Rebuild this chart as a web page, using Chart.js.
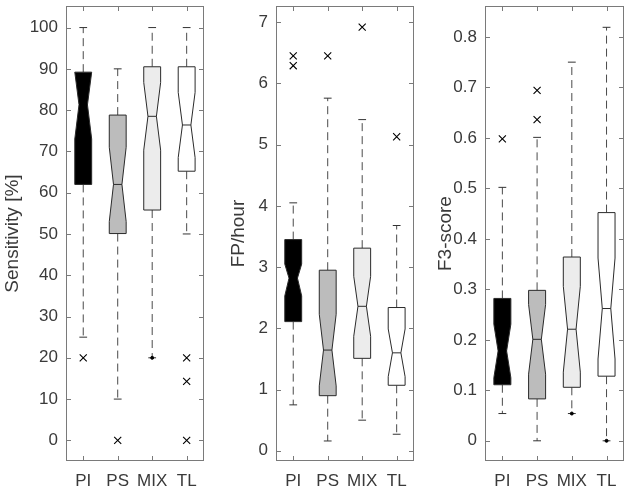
<!DOCTYPE html>
<html><head><meta charset="utf-8">
<script src="https://cdn.jsdelivr.net/npm/chart.js@4/dist/chart.umd.min.js"></script>
<style>
html,body{margin:0;padding:0;background:#fff;}
#wrap{position:relative;width:630px;height:492px;}
.p{position:absolute;top:0;width:210px;height:492px;}
</style></head><body>
<div id="wrap">
<div class="p" style="left:0"><canvas id="c1" width="210" height="492"></canvas></div>
<div class="p" style="left:210px"><canvas id="c2" width="210" height="492"></canvas></div>
<div class="p" style="left:420px"><canvas id="c3" width="210" height="492"></canvas></div>
</div>
<script>
const categories = ['PI', 'PS', 'MIX', 'TL'];
const boxColors = ['#000000', '#bcbcbc', '#ececec', '#ffffff'];

// Sensitivity [%]
const sensWhiskerLow  = [25, 10, 20, 50];
const sensQ1          = [62, 50.1, 55.8, 65.2];
const sensNotchLow    = [73, 53, 70.3, 68.5];
const sensMedian      = [81.3, 62, 78.5, 76.4];
const sensNotchHigh   = [89.2, 71, 86.7, 84.3];
const sensQ3          = [89.2, 78.8, 90.5, 90.5];
const sensWhiskerHigh = [100, 90, 100, 100];
const sensOutliers    = [[20], [0], [], [20, 14.3, 0]];
const sensEndDots     = [[], [], [20], []];
const sensTicks       = [0, 10, 20, 30, 40, 50, 60, 70, 80, 90, 100];

// FP/hour
const fpWhiskerLow  = [0.75, 0.16, 0.50, 0.27];
const fpQ1          = [2.11, 0.90, 1.51, 1.07];
const fpNotchLow    = [2.53, 1.06, 1.87, 1.21];
const fpMedian      = [2.82, 1.645, 2.36, 1.60];
const fpNotchHigh   = [3.05, 2.23, 2.85, 1.99];
const fpQ3          = [3.45, 2.95, 3.31, 2.34];
const fpWhiskerHigh = [4.05, 5.76, 5.41, 3.68];
const fpOutliers    = [[6.45, 6.29], [6.45], [6.92], [5.13]];
const fpEndDots     = [[], [], [], []];
const fpTicks       = [0, 1, 2, 3, 4, 5, 6, 7];

// F3-score
const f3WhiskerLow  = [0.054, 0.0, 0.054, 0.0];
const f3Q1          = [0.111, 0.083, 0.106, 0.128];
const f3NotchLow    = [0.125, 0.132, 0.136, 0.162];
const f3Median      = [0.178, 0.201, 0.221, 0.262];
const f3NotchHigh   = [0.231, 0.270, 0.306, 0.362];
const f3Q3          = [0.282, 0.298, 0.364, 0.452];
const f3WhiskerHigh = [0.502, 0.601, 0.750, 0.819];
const f3Outliers    = [[0.598], [0.694, 0.636], [], []];
const f3EndDots     = [[], [], [0.054], [0]];
const f3Ticks       = [0, 0.1, 0.2, 0.3, 0.4, 0.5, 0.6, 0.7, 0.8];

const TEXT = '#3a3a3a';
const FRAME = '#7a7a7a';
const FONT = "'Liberation Sans', Arial, Helvetica, sans-serif";

function toPoints(lists) {
  const pts = [];
  lists.forEach((arr, i) => arr.forEach(v => pts.push({x: categories[i], y: v})));
  return pts;
}

const boxPlugin = {
  id: 'boxes',
  beforeDatasetsDraw(chart) {
    const b = chart.options.plugins.boxes;
    const xs = chart.scales.x, ys = chart.scales.y, ctx = chart.ctx;
    const sp = xs.getPixelForValue(1) - xs.getPixelForValue(0);
    const hw = sp * 0.245;
    ctx.save();
    categories.forEach((c, i) => {
      const x = xs.getPixelForValue(i);
      const Y = v => ys.getPixelForValue(v);
      ctx.strokeStyle = '#4a4a4a';
      ctx.lineWidth = 1;
      ctx.setLineDash([8, 5]);
      ctx.beginPath();
      ctx.moveTo(x, Y(b.q3[i])); ctx.lineTo(x, Y(b.wh[i]));
      ctx.moveTo(x, Y(b.q1[i])); ctx.lineTo(x, Y(b.wl[i]));
      ctx.stroke();
      ctx.setLineDash([]);
      const cw = hw * 0.46;
      ctx.strokeStyle = '#333';
      ctx.beginPath();
      ctx.moveTo(x - cw, Y(b.wh[i])); ctx.lineTo(x + cw, Y(b.wh[i]));
      ctx.moveTo(x - cw, Y(b.wl[i])); ctx.lineTo(x + cw, Y(b.wl[i]));
      ctx.stroke();
      const L = x - hw, R = x + hw, inset = hw * 0.5;
      ctx.beginPath();
      ctx.moveTo(L, Y(b.q1[i]));
      ctx.lineTo(L, Y(b.nl[i]));
      ctx.lineTo(L + inset, Y(b.med[i]));
      ctx.lineTo(L, Y(b.nh[i]));
      ctx.lineTo(L, Y(b.q3[i]));
      ctx.lineTo(R, Y(b.q3[i]));
      ctx.lineTo(R, Y(b.nh[i]));
      ctx.lineTo(R - inset, Y(b.med[i]));
      ctx.lineTo(R, Y(b.nl[i]));
      ctx.lineTo(R, Y(b.q1[i]));
      ctx.closePath();
      ctx.fillStyle = boxColors[i];
      ctx.fill();
      ctx.strokeStyle = '#2a2a2a';
      ctx.lineWidth = 1;
      ctx.stroke();
      ctx.beginPath();
      ctx.moveTo(L + inset, Y(b.med[i])); ctx.lineTo(R - inset, Y(b.med[i]));
      ctx.strokeStyle = i === 0 ? '#000' : '#2a2a2a';
      ctx.stroke();
    });
    ctx.restore();
  },
  afterDraw(chart) {
    const {ctx, chartArea: a} = chart;
    const xs = chart.scales.x, ys = chart.scales.y;
    ctx.save();
    ctx.strokeStyle = FRAME;
    ctx.lineWidth = 1;
    const l = Math.round(a.left) + 0.5, r = Math.round(a.right) - 0.5;
    const t = Math.round(a.top) + 0.5, bt = Math.round(a.bottom) - 0.5;
    ctx.strokeRect(l, t, r - l, bt - t);
    const tl = 4.5;
    ctx.beginPath();
    ys.ticks.forEach(tk => {
      const y = Math.round(ys.getPixelForValue(tk.value)) + 0.5;
      ctx.moveTo(l, y); ctx.lineTo(l + tl, y);
      ctx.moveTo(r, y); ctx.lineTo(r - tl, y);
    });
    categories.forEach((c, i) => {
      const x = Math.round(xs.getPixelForValue(i)) + 0.5;
      ctx.moveTo(x, bt); ctx.lineTo(x, bt - tl);
      ctx.moveTo(x, t); ctx.lineTo(x, t + tl);
    });
    ctx.stroke();
    ctx.restore();
  }
};

function makeChart(id, cfg) {
  return new Chart(document.getElementById(id), {
    type: 'line',
    data: {
      labels: categories,
      datasets: [
        {data: toPoints(cfg.outliers), showLine: false, pointStyle: 'crossRot', pointRadius: 5,
         pointBorderWidth: 1.1, borderColor: '#000', backgroundColor: '#000'},
        {data: toPoints(cfg.dots), showLine: false, pointStyle: 'circle', pointRadius: 1.5,
         borderColor: '#000', backgroundColor: '#000'}
      ]
    },
    options: {
      responsive: false,
      animation: false,
      events: [],
      layout: {padding: {top: 3, right: cfg.padRight, left: 0, bottom: 0}},
      plugins: {
        legend: {display: false},
        tooltip: {enabled: false},
        boxes: cfg.box
      },
      scales: {
        x: {
          type: 'category', offset: true,
          grid: {display: false, drawTicks: false},
          border: {display: false},
          ticks: {color: TEXT, font: {family: FONT, size: 17}, padding: 10, maxRotation: 0, autoSkip: false},
          afterFit: s => { s.height = 31; s.paddingLeft = 0; s.paddingRight = 0; }
        },
        y: {
          type: 'linear', min: cfg.min, max: cfg.max,
          afterBuildTicks: s => { s.ticks = cfg.ticks.map(v => ({value: v})); },
          grid: {display: false, drawTicks: false},
          border: {display: false},
          ticks: {color: TEXT, font: {family: FONT, size: 17}, padding: 8, callback: v => String(v)},
          title: {display: true, text: cfg.title, color: TEXT, font: {family: FONT, size: 19},
                  padding: {top: cfg.titlePad, bottom: 0}},
          afterFit: s => { s.width = cfg.axisWidth; s.paddingTop = 0; s.paddingBottom = 0; }
        }
      }
    },
    plugins: [boxPlugin]
  });
}

makeChart('c1', {
  title: 'Sensitivity [%]', min: -5, max: 105.2, ticks: sensTicks, axisWidth: 66, padRight: 6, titlePad: 1.6,
  outliers: sensOutliers, dots: sensEndDots,
  box: {wl: sensWhiskerLow, q1: sensQ1, nl: sensNotchLow, med: sensMedian, nh: sensNotchHigh, q3: sensQ3, wh: sensWhiskerHigh}
});
makeChart('c2', {
  title: 'FP/hour', min: -0.167, max: 7.264, ticks: fpTicks, axisWidth: 66, padRight: 5, titlePad: 17.6,
  outliers: fpOutliers, dots: fpEndDots,
  box: {wl: fpWhiskerLow, q1: fpQ1, nl: fpNotchLow, med: fpMedian, nh: fpNotchHigh, q3: fpQ3, wh: fpWhiskerHigh}
});
makeChart('c3', {
  title: 'F3-score', min: -0.040, max: 0.861, ticks: f3Ticks, axisWidth: 65, padRight: 5, titlePad: 14.6,
  outliers: f3Outliers, dots: f3EndDots,
  box: {wl: f3WhiskerLow, q1: f3Q1, nl: f3NotchLow, med: f3Median, nh: f3NotchHigh, q3: f3Q3, wh: f3WhiskerHigh}
});
</script>
</body></html>
